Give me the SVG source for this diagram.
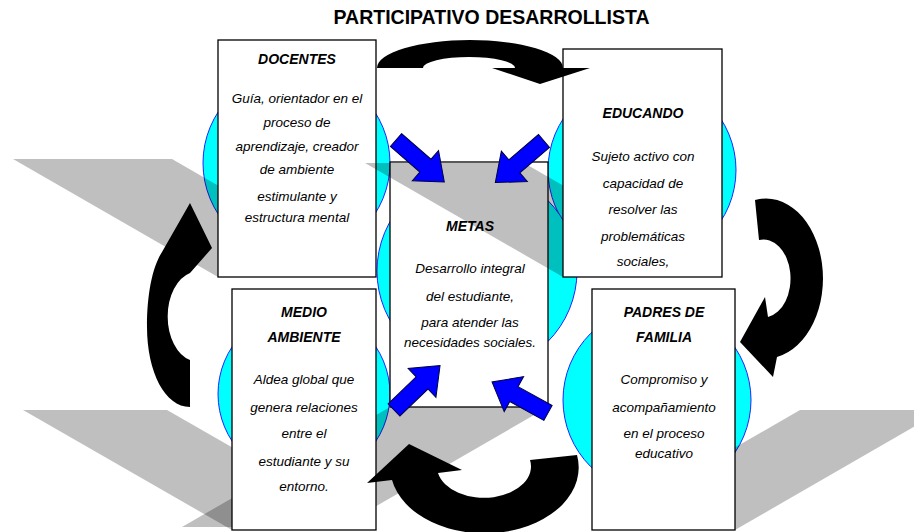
<svg xmlns="http://www.w3.org/2000/svg" width="914" height="532" viewBox="0 0 914 532">
<defs>
<style>
.circ{fill:#00ffff;stroke:#2222ff;stroke-width:1}
.box{fill:#fff;stroke:#000;stroke-width:1.3}
.shd{fill:#000;fill-opacity:0.25}
.h{font-family:"Liberation Sans",Arial,sans-serif;font-weight:bold;font-style:italic;font-size:14px;text-anchor:middle;fill:#000}
.t{font-family:"Liberation Sans",Arial,sans-serif;font-style:italic;font-size:13.5px;text-anchor:middle;fill:#000}
.ttl{font-family:"Liberation Sans",Arial,sans-serif;font-weight:bold;font-size:19.5px;text-anchor:middle;fill:#000}
.ba{fill:#0000ff;stroke:#000040;stroke-width:1}
.ca{fill:#000}
</style>
<path id="ar" d="M0,-8.5 H39 V-20 L64,0 L39,20 V8.5 H0 Z"/>
</defs>
<rect width="914" height="532" fill="#fff"/>
<text class="ttl" x="491.5" y="24">PARTICIPATIVO DESARROLLISTA</text>

<g id="backdrops">
<circle class="circ" cx="296.5" cy="163" r="93.5"/>
<circle class="circ" cx="642" cy="170" r="94"/>
<circle class="circ" cx="477" cy="271" r="100"/>
<circle class="circ" cx="304" cy="394" r="86"/>
<circle class="circ" cx="657" cy="400" r="94"/>
</g>

<g id="docentes">
<polygon class="shd" points="13,159 172,159 376,277 218,277"/>
<rect class="box" x="218" y="40" width="158" height="237"/>
<text class="h" x="297" y="64">DOCENTES</text>
<text class="t" x="297" y="103">Guía, orientador en el</text>
<text class="t" x="297" y="127">proceso de</text>
<text class="t" x="297" y="151">aprendizaje, creador</text>
<text class="t" x="297" y="174">de ambiente</text>
<text class="t" x="297" y="201">estimulante y</text>
<text class="t" x="297" y="222">estructura mental</text>
</g>

<g id="metas">
<polygon class="shd" points="390,407 548,407 340,527 182,527"/>
<rect class="box" x="390" y="162" width="158" height="245"/>
<text class="h" x="470" y="231">METAS</text>
<text class="t" x="470" y="273">Desarrollo integral</text>
<text class="t" x="470" y="301">del estudiante,</text>
<text class="t" x="470" y="327">para atender las</text>
<text class="t" x="470" y="347">necesidades sociales.</text>
</g>

<g id="educando">
<polygon class="shd" points="365,163 524,163 722,277 563,277"/>
<rect class="box" x="563" y="49" width="159" height="228"/>
<text class="h" x="643" y="118">EDUCANDO</text>
<text class="t" x="643" y="161">Sujeto activo con</text>
<text class="t" x="643" y="188">capacidad de</text>
<text class="t" x="643" y="214">resolver las</text>
<text class="t" x="643" y="241">problemáticas</text>
<text class="t" x="643" y="266">sociales,</text>
</g>

<g id="medio-ambiente">
<polygon class="shd" points="23,410 167,410 376,530 232,530"/>
<rect class="box" x="232" y="289" width="144" height="241"/>
<text class="h" x="304" y="317">MEDIO</text>
<text class="h" x="304" y="342">AMBIENTE</text>
<text class="t" x="304" y="384">Aldea global que</text>
<text class="t" x="304" y="412">genera relaciones</text>
<text class="t" x="304" y="438">entre el</text>
<text class="t" x="304" y="466">estudiante y su</text>
<text class="t" x="304" y="491">entorno.</text>
</g>

<g id="padres-de-familia">
<polygon class="shd" points="592,530 735,530 943,410 800,410"/>
<rect class="box" x="592" y="289" width="143" height="241"/>
<text class="h" x="664" y="317">PADRES DE</text>
<text class="h" x="664" y="342">FAMILIA</text>
<text class="t" x="664" y="384">Compromiso y</text>
<text class="t" x="664" y="412">acompañamiento</text>
<text class="t" x="664" y="438">en el proceso</text>
<text class="t" x="664" y="458">educativo</text>
</g>

<g id="connectors">
<use href="#ar" class="ba" transform="translate(396,140) rotate(41)"/>
<use href="#ar" class="ba" transform="translate(544,141) rotate(139.5)"/>
<use href="#ar" class="ba" transform="translate(394,410) rotate(-44)"/>
<use href="#ar" class="ba" transform="translate(548,413) rotate(209)"/>
<path class="ca" d="M377,68 A93,28 0 0 1 563,68 L590,68 L540,84 L492,68 L515,68 A46,11 0 0 0 423,68 Z"/>
<path class="ca" d="M755,200 A57,80 0 0 1 777,357 L773,377 L740,342 L765,297 L768,317 A27,39 0 0 0 759,240 Z"/>
<path class="ca" d="M577,455 A93,65 0 0 1 392,480 L367,483 L409,444 L462,470 L438,473 A46.5,31 0 0 0 530,460 Z"/>
<path class="ca" d="M190,407 C165,407 147,372 147,327 C147,292 153,266 162,252 L190,203 L212,248 L190,273 A30,45 0 0 0 190,360 Z"/>
</g>
</svg>
